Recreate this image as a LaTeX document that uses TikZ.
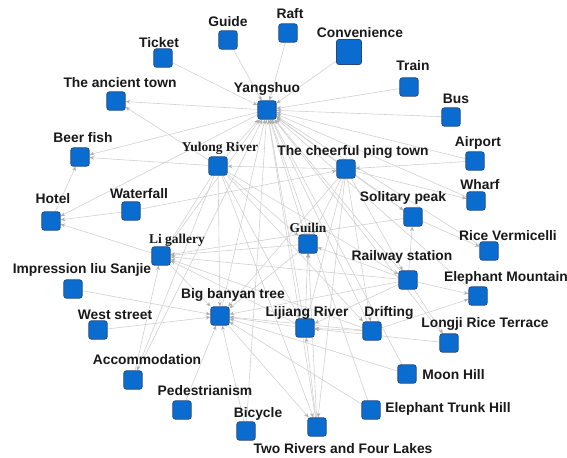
\documentclass[tikz,border=0pt]{standalone}
\usepackage{fontspec}
\setmainfont{Liberation Sans}
\newfontfamily\timesbold{Liberation Serif}
\usetikzlibrary{arrows.meta,backgrounds}
\definecolor{nodeblue}{RGB}{10,108,206}
\definecolor{nodeedge}{RGB}{40,70,120}
\definecolor{linkgray}{RGB}{208,208,208}
\definecolor{tipgray}{RGB}{175,175,175}

\begin{document}
\begin{tikzpicture}[
  x=0.03cm, y=-0.03cm,
  box/.style={draw=nodeedge,fill=nodeblue,rounded corners=2pt,line width=0.6pt,
    minimum size=0.55cm,inner sep=0pt},
  bigbox/.style={box,minimum size=0.75cm},
  lab/.style={font=\fontsize{11.8}{13}\selectfont\bfseries,text=black!90,inner sep=1pt},
  slab/.style={font=\fontsize{11.5}{13}\selectfont\timesbold\bfseries,text=black!90,inner sep=1pt},
  link/.style={draw=linkgray,line width=0.5pt,-{Stealth[length=4pt,width=3.2pt,color=tipgray]}}]
  \useasboundingbox (0,0) rectangle (567,458);
  % boxes
  \node[box] (guide) at (228,40) {};
  \node[box] (raft) at (288,33) {};
  \node[bigbox] (conv) at (349,52) {};
  \node[box] (ticket) at (163,58) {};
  \node[box] (train) at (409,87) {};
  \node[box] (ancient) at (116,101) {};
  \node[box] (ysh) at (267,110) {};
  \node[box] (bus) at (451,117) {};
  \node[box] (beer) at (80,157) {};
  \node[box] (yulong) at (218,166) {};
  \node[box] (cheer) at (346,169) {};
  \node[box] (airport) at (475,161) {};
  \node[box] (wharf) at (476,201) {};
  \node[box] (solit) at (413,217) {};
  \node[box] (hotel) at (51,221) {};
  \node[box] (water) at (131,211) {};
  \node[box] (ligal) at (161,256) {};
  \node[box] (guilin) at (308,244) {};
  \node[box] (rice) at (489,251) {};
  \node[box] (impr) at (73,289) {};
  \node[box] (rail) at (408,280) {};
  \node[box] (eleph) at (478,296) {};
  \node[box] (banyan) at (220,316) {};
  \node[box] (west) at (98,330) {};
  \node[box] (lijiang) at (305,328) {};
  \node[box] (drift) at (372,331) {};
  \node[box] (longji) at (449,343) {};
  \node[box] (accom) at (133,380) {};
  \node[box] (moon) at (407,374) {};
  \node[box] (pede) at (182,410) {};
  \node[box] (trunk) at (371,410) {};
  \node[box] (bicyc) at (246,431) {};
  \node[box] (tworiv) at (317,427) {};
  % labels
  \node[lab] (guide-t) at (228,22) {Guide};
  \node[lab] (raft-t) at (290,14) {Raft};
  \node[lab] (conv-t) at (360,33) {Convenience};
  \node[lab] (ticket-t) at (159,43) {Ticket};
  \node[lab] (train-t) at (413,66) {Train};
  \node[lab] (ancient-t) at (120,83) {The ancient town};
  \node[lab] (ysh-t) at (267,89) {Yangshuo};
  \node[lab] (bus-t) at (456,99) {Bus};
  \node[lab] (beer-t) at (83,138) {Beer fish};
  \node[slab] (yulong-t) at (220,148) {Yulong River};
  \node[lab] (cheer-t) at (353,152) {The cheerful ping town};
  \node[lab] (airport-t) at (478,143) {Airport};
  \node[lab] (wharf-t) at (480,185) {Wharf};
  \node[lab] (solit-t) at (403,198) {Solitary peak};
  \node[lab] (hotel-t) at (53,199) {Hotel};
  \node[lab] (water-t) at (139,194) {Waterfall};
  \node[slab] (ligal-t) at (177,240) {Li gallery};
  \node[slab] (guilin-t) at (308,228) {Guilin};
  \node[lab] (rice-t) at (508,236) {Rice Vermicelli};
  \node[lab] (impr-t) at (82,270) {Impression liu Sanjie};
  \node[lab] (rail-t) at (402,257) {Railway station};
  \node[lab] (eleph-t) at (506,278) {Elephant Mountain};
  \node[lab] (banyan-t) at (233,295) {Big banyan tree};
  \node[lab] (west-t) at (115,315) {West street};
  \node[lab] (lijiang-t) at (307,313) {Lijiang River};
  \node[lab] (drift-t) at (389,313) {Drifting};
  \node[lab] (longji-t) at (485,324) {Longji Rice Terrace};
  \node[lab] (accom-t) at (147,360) {Accommodation};
  \node[lab,anchor=west] (moon-t) at (421,375) {Moon Hill};
  \node[lab] (pede-t) at (205,391) {Pedestrianism};
  \node[lab,anchor=west] (trunk-t) at (384,409) {Elephant Trunk Hill};
  \node[lab] (bicyc-t) at (258,414) {Bicycle};
  \node[lab] (tworiv-t) at (343,449) {Two Rivers and Four Lakes};
  % links
  \begin{scope}[on background layer]
  \foreach \a/\b in {guide/ysh,ticket/ysh,raft/ysh,conv/ysh,train/ysh,bus/ysh,
      ysh/ancient,ysh/beer,airport/ysh,yulong/ysh,cheer/ysh,solit/ysh,guilin/ysh,
      rail/ysh,lijiang/ysh,drift/ysh,banyan/ysh,tworiv/ysh,bicyc/ysh,ligal/ysh,
      ysh/hotel,longji/ysh,eleph/ysh,moon/ysh,trunk/ysh,accom/ysh,rice/ysh,wharf/ysh,
      yulong/ancient,yulong/beer,cheer/yulong,yulong/ligal,yulong/banyan,yulong/guilin,
      yulong/lijiang,yulong/rail,yulong/drift,yulong/tworiv,yulong/accom,hotel/beer,
      water/hotel,ligal/hotel,impr/banyan,west/banyan,pede/banyan,bicyc/banyan,
      banyan/tworiv,lijiang/banyan,drift/banyan,rail/banyan,ligal/banyan,cheer/banyan,
      guilin/banyan,airport/cheer,cheer/wharf,cheer/solit,solit/rice,rail/solit,
      rail/eleph,rail/longji,rail/guilin,rail/lijiang,drift/lijiang,longji/lijiang,
      moon/banyan,trunk/banyan,tworiv/lijiang,tworiv/guilin,drift/eleph,lijiang/guilin,
      guilin/ligal,cheer/guilin,cheer/lijiang,cheer/tworiv,cheer/rail,lijiang/ligal,
      solit/ligal,rail/ligal,drift/ligal,cheer/drift,accom/ligal,water/cheer}
    \draw[link] (\a) -- (\b);
  \end{scope}
\end{tikzpicture}
\end{document}
